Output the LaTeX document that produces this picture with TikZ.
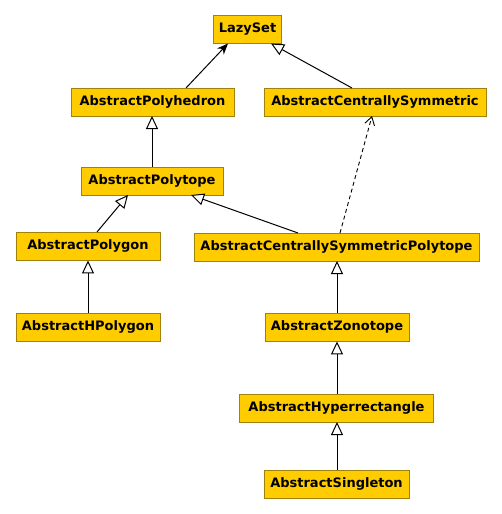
\documentclass[tikz,border=0pt]{standalone}
\usepackage{fontspec}
\setmainfont{DejaVu Sans}
\usetikzlibrary{arrows.meta}
\definecolor{boxfill}{RGB}{255,204,0}
\definecolor{boxline}{RGB}{160,130,10}
\tikzset{
  cls/.style={draw=boxline, line width=0.9pt, fill=boxfill, minimum height=28pt, inner sep=0pt, font=\fontsize{13}{15}\selectfont\bfseries, text=black},
  inh/.style={draw=black, line width=1pt, -{Triangle[open, length=13pt, width=12pt, fill=white]}},
  assoc/.style={draw=black, line width=1pt, -{Stealth[length=11pt, width=9pt]}},
  real/.style={draw=black, line width=0.9pt, dashed, dash pattern=on 4pt off 3pt, -{Straight Barb[length=8pt, width=10pt]}}
}
\begin{document}
\begin{tikzpicture}[x=1pt, y=-1pt]
\useasboundingbox (0,0) rectangle (502,514);
\node[cls, minimum width=68pt] (lazy) at (247.5,29) {LazySet};
\node[cls, minimum width=163pt] (poly) at (152.5,102) {AbstractPolyhedron};
\node[cls, minimum width=222pt] (cs) at (375,102) {AbstractCentrallySymmetric};
\node[cls, minimum width=142pt] (ptope) at (152,181) {AbstractPolytope};
\node[cls, minimum width=144pt] (pgon) at (88,246) {AbstractPolygon};
\node[cls, minimum width=285pt] (csp) at (336.5,247) {AbstractCentrallySymmetricPolytope};
\node[cls, minimum width=144pt] (hpgon) at (88,327) {AbstractHPolygon};
\node[cls, minimum width=144pt] (zono) at (337,327) {AbstractZonotope};
\node[cls, minimum width=194pt] (hyper) at (336.5,408) {AbstractHyperrectangle};
\node[cls, minimum width=145pt] (single) at (336.5,484) {AbstractSingleton};

\coordinate (a1) at (186,88);
\draw[assoc] (a1) -- (228,43.5);
\coordinate (c1) at (352,88);
\draw[inh] (c1) -- (271,43.5);
\draw[inh] (ptope.north -| 152,0) -- (152,116);
\coordinate (g1) at (97,232);
\draw[inh] (g1) -- (128,195);
\coordinate (p1) at (298,233);
\draw[inh] (p1) -- (191,195);
\coordinate (p2) at (340,233);
\draw[real] (p2) -- (372,116);
\draw[inh] (hpgon.north) -- (pgon.south);
\draw[inh] (zono.north) -- (337,261);
\draw[inh] (hyper.north -| 337,0) -- (zono.south);
\draw[inh] (single.north -| 337,0) -- (337,422);
\end{tikzpicture}
\end{document}
